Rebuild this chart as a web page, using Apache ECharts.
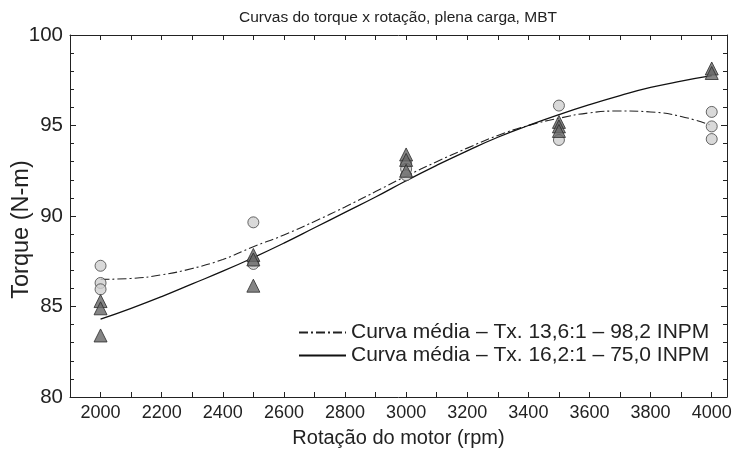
<!DOCTYPE html>
<html>
<head>
<meta charset="utf-8">
<script src="https://cdn.jsdelivr.net/npm/echarts@6/dist/echarts.min.js"></script>
<style>
  html, body { margin: 0; padding: 0; background: #fff; }
  #chart { width: 739px; height: 460px; }
</style>
</head>
<body>
<div id="chart"></div>
<script>
// Engine speeds (rpm) for the measured points
const rpm = [2000, 2500, 3000, 3500, 4000];

// Measured torque, 13,6:1 compression (circles)
const torqueCircles = [
  [87.25, 86.3, 85.95],
  [89.65, 87.5, 87.35],
  [92.9, 92.6, 92.25],
  [96.1, 94.2],
  [95.75, 94.95, 94.25]
];

// Measured torque, 16,2:1 compression (triangles)
const torqueTriangles = [
  [85.3, 84.9, 83.4],
  [87.85, 87.6, 86.15],
  [93.4, 93.1, 92.5],
  [95.2, 94.95, 94.7],
  [98.15, 97.9]
];

// Mean curves, sampled every 100 rpm
const curveRpm = [2000, 2100, 2200, 2300, 2400, 2500, 2600, 2700, 2800, 2900, 3000,
                  3100, 3200, 3300, 3400, 3500, 3600, 3700, 3800, 3900, 4000];
const curve136 = [86.5, 86.55, 86.75, 87.1, 87.6, 88.3, 88.95, 89.7, 90.5, 91.35, 92.2,
                  93.0, 93.75, 94.45, 95.0, 95.4, 95.7, 95.8, 95.75, 95.5, 95.0];
const curve162 = [84.3, 84.9, 85.55, 86.25, 86.95, 87.7, 88.5, 89.35, 90.2, 91.05, 91.95,
                  92.8, 93.6, 94.35, 95.0, 95.6, 96.15, 96.65, 97.1, 97.45, 97.75];

const titleText = 'Curvas do torque x rotação, plena carga, MBT';
const seriesNames = ['Curva média – Tx. 13,6:1 – 98,2 INPM', 'Curva média – Tx. 16,2:1 – 75,0 INPM'];

function pairs(xs, groups) {
  const out = [];
  xs.forEach((x, i) => groups[i].forEach(v => out.push([x, v])));
  return out;
}
const zip = (xs, ys) => xs.map((x, i) => [x, ys[i]]);

const font = 'Liberation Sans, Arial, sans-serif';
const ink = '#222';
const axisCommon = {
  nameMoveOverlap: false,
  axisLine: { lineStyle: { color: ink, width: 1 } },
  axisTick: { inside: true, length: 6, lineStyle: { color: ink } },
  minorTick: { show: true, splitNumber: 5, length: 4, lineStyle: { color: ink } },
  splitLine: { show: false }
};
const xTicks = {
  type: 'value', min: 1900, max: 4050, interval: 100,
  minorTick: { show: false },
  axisTick: { inside: true, length: 5, lineStyle: { color: ink } }
};

const chart = echarts.init(document.getElementById('chart'), null, { renderer: 'canvas' });
chart.setOption({
  animation: false,
  backgroundColor: '#fff',
  graphic: [{
    type: 'text', x: 398, y: 18,
    style: {
      text: titleText, fontFamily: font, fontSize: 15.5, fill: ink,
      textAlign: 'center', textVerticalAlign: 'middle'
    }
  }],
  grid: { left: 70, top: 35, right: 12, bottom: 63, outerBoundsMode: 'none' },
  legend: {
    data: seriesNames,
    orient: 'vertical',
    left: 293, top: 317,
    itemWidth: 47, itemHeight: 12, itemGap: 2,
    itemStyle: { opacity: 0 },
    textStyle: { fontFamily: font, fontSize: 21, color: ink }
  },
  xAxis: [
    Object.assign({}, axisCommon, xTicks, {
      axisLabel: {
        fontFamily: font, fontSize: 18, color: ink, margin: 7,
        showMaxLabel: false,
        formatter: v => (v % 200 === 0 ? String(v) : '')
      },
      name: 'Rotação do motor (rpm)', nameLocation: 'middle', nameGap: 31,
      nameTextStyle: { fontFamily: font, fontSize: 20, color: ink }
    }),
    Object.assign({}, axisCommon, xTicks, {
      position: 'top',
      axisLabel: { show: false }
    })
  ],
  yAxis: [
    Object.assign({}, axisCommon, {
      type: 'value', min: 80, max: 100, interval: 5,
      axisLabel: { fontFamily: font, fontSize: 20.5, color: ink, margin: 7 },
      name: 'Torque (N-m)', nameLocation: 'middle', nameGap: 36,
      nameTextStyle: { fontFamily: font, fontSize: 23.5, color: ink, padding: [0, 27, 0, 0] }
    }),
    Object.assign({}, axisCommon, {
      type: 'value', min: 80, max: 100, interval: 5, position: 'right',
      axisLabel: { show: false }
    })
  ],
  series: [
    {
      name: seriesNames[0], type: 'line', data: zip(curveRpm, curve136),
      smooth: true, symbol: 'none',
      lineStyle: { color: ink, width: 1.1, type: [9, 3, 2, 3] },
      itemStyle: { color: ink }, z: 2
    },
    {
      name: seriesNames[1], type: 'line', data: zip(curveRpm, curve162),
      smooth: true, symbol: 'none',
      lineStyle: { color: '#111', width: 1.3, type: 'solid' },
      itemStyle: { color: '#111' }, z: 2
    },
    {
      name: 'circles', type: 'scatter', data: pairs(rpm, torqueCircles),
      symbol: 'circle', symbolSize: 11,
      itemStyle: { color: '#cfcfcf', borderColor: '#444', borderWidth: 1 }, z: 3
    },
    {
      name: 'triangles', type: 'scatter', data: pairs(rpm, torqueTriangles),
      symbol: 'triangle', symbolSize: 13,
      itemStyle: { color: '#666', borderColor: '#2a2a2a', borderWidth: 1 }, z: 4
    }
  ]
});
</script>
</body>
</html>
